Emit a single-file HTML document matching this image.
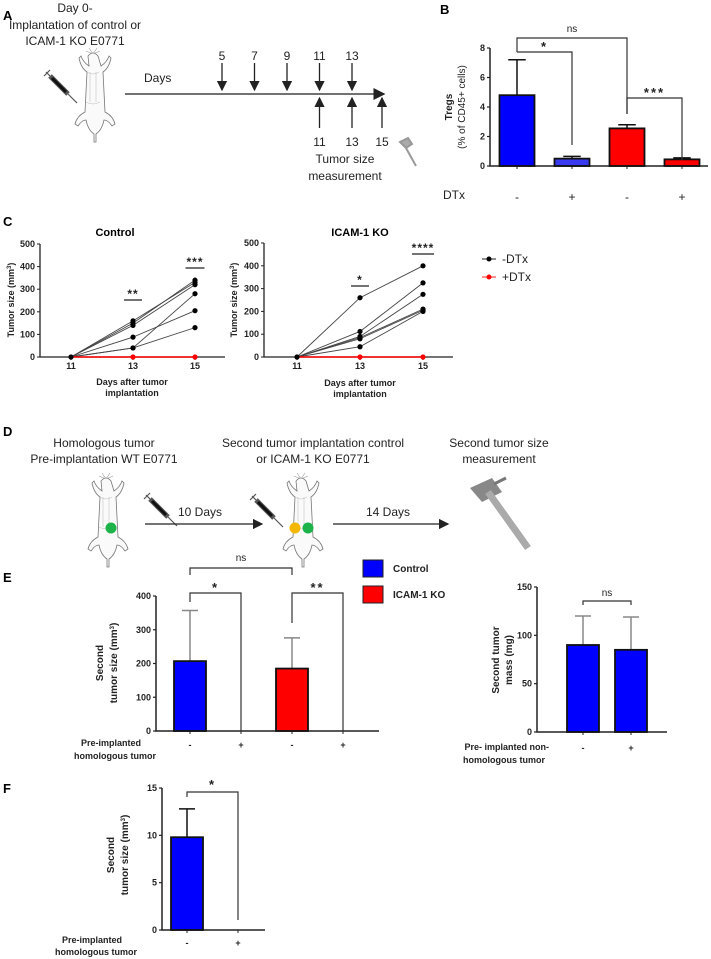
<!DOCTYPE html>
<html><head><meta charset="utf-8"><style>
html,body{margin:0;padding:0;background:#fff;}
svg{display:block;font-family:"Liberation Sans",sans-serif;}
.t{font-size:9px;font-weight:bold;fill:#222;}
.n{font-size:12px;fill:#222;}
.pl{font-size:13px;font-weight:bold;fill:#000;}
</style></head><body>
<svg id="fig" width="711" height="959" viewBox="0 0 711 959" xmlns="http://www.w3.org/2000/svg">
<defs>
<marker id="ah" markerWidth="8" markerHeight="8" refX="7" refY="4" orient="auto"><path d="M0,0 L8,4 L0,8 z" fill="#222"/></marker>
<g id="mouse">
<path d="M0,-38 l-4,-6 m4,6 l4,-6 m-4,6 l-7,-3 m7,3 l7,-3" stroke="#999" fill="none" stroke-width="0.6"/>
<path d="M-5,-36 q5,-6 10,0 l3,10 q6,-4 8,-10 l2,2 q-2,10 -8,14 l2,40 q8,4 10,12 l-3,2 q-4,-6 -8,-6 q-2,10 -8,14 l0,8 l-2,0 l0,-8 q-6,-4 -8,-14 q-4,0 -8,6 l-3,-2 q2,-8 10,-12 l2,-40 q-6,-4 -8,-14 l2,-2 q2,6 8,10 z" stroke="#777" fill="#fafafa" stroke-width="0.8"/>
<path d="M-6,-20 q6,4 12,0 M-7,10 q7,4 14,0 M-3,-20 l0,30 M3,-20 l0,30" stroke="#bbb" fill="none" stroke-width="0.5"/>
</g>
<g id="syr">
<path d="M0,0 l18,18" stroke="#555" stroke-width="5"/>
<path d="M2,2 l14,14" stroke="#111" stroke-width="3"/>
<path d="M18,18 l9,9 M-4,-4 l4,4 M-6,0 l6,-6" stroke="#555" stroke-width="1.2"/>
</g>
</defs>

<!-- Panel A -->
<g>
<text x="3" y="20" class="pl">A</text>
<text x="75" y="12" class="n" text-anchor="middle">Day 0-</text>
<text x="75" y="29" class="n" text-anchor="middle">Implantation of control or</text>
<text x="75" y="45" class="n" text-anchor="middle">ICAM-1 KO E0771</text>
<use href="#mouse" x="93" y="92"/>
<use href="#syr" x="50" y="76"/>
<text x="144" y="82" class="n">Days</text>
<line x1="125" y1="94" x2="384" y2="94" stroke="#444" stroke-width="1.5" marker-end="url(#ah)"/>
<g id="timeline"></g>
<text x="345" y="163" class="n" text-anchor="middle">Tumor size</text>
<text x="345" y="180" class="n" text-anchor="middle">measurement</text>
<path d="M400,142 l8,-4 l4,6 l-6,4 z M406,148 l10,18" stroke="#999" stroke-width="2" fill="#aaa"/>
</g>

<!-- Panel B -->
<g id="pb">
<text x="440" y="14" class="pl">B</text>
<text transform="translate(452,107) rotate(-90)" class="t" text-anchor="middle" style="font-size:10px">Tregs</text>
<text transform="translate(465,107) rotate(-90)" class="t" text-anchor="middle" style="font-size:10px;font-weight:normal">(% of CD45+ cells)</text>
<text x="443" y="199" class="n">DTx</text>
</g>

<!-- Panel C -->
<g id="pc">
<text x="3" y="226" class="pl">C</text>
<text x="115" y="236" class="pl" style="font-size:11px" text-anchor="middle">Control</text>
<text x="360" y="236" class="pl" style="font-size:11px" text-anchor="middle">ICAM-1 KO</text>
<text x="132" y="385" class="t" text-anchor="middle">Days after tumor</text>
<text x="132" y="396" class="t" text-anchor="middle">implantation</text>
<text x="360" y="386" class="t" text-anchor="middle">Days after tumor</text>
<text x="360" y="397" class="t" text-anchor="middle">implantation</text>
<text transform="translate(14,300) rotate(-90)" class="t" text-anchor="middle">Tumor size (mm<tspan dy="-3" font-size="6">3</tspan><tspan dy="3">)</tspan></text>
<text transform="translate(237,300) rotate(-90)" class="t" text-anchor="middle">Tumor size (mm<tspan dy="-3" font-size="6">3</tspan><tspan dy="3">)</tspan></text>
<g><line x1="482" y1="259" x2="496" y2="259" stroke="#222"/><circle cx="489" cy="259" r="2.5" fill="#000"/><text x="502" y="263" class="n">-DTx</text></g>
<g><line x1="482" y1="277" x2="496" y2="277" stroke="#f22"/><circle cx="489" cy="277" r="2.5" fill="#f00"/><text x="502" y="281" class="n">+DTx</text></g>
</g>

<!-- Panel D -->
<g>
<text x="3" y="436" class="pl">D</text>
<text x="104" y="447" class="n" text-anchor="middle">Homologous  tumor</text>
<text x="104" y="463" class="n" text-anchor="middle">Pre-implantation WT E0771</text>
<text x="313" y="447" class="n" text-anchor="middle">Second tumor implantation control</text>
<text x="313" y="463" class="n" text-anchor="middle">or ICAM-1 KO E0771</text>
<text x="499" y="447" class="n" text-anchor="middle">Second tumor size</text>
<text x="499" y="463" class="n" text-anchor="middle">measurement</text>
<use href="#mouse" x="106" y="517"/>
<circle cx="111" cy="528" r="5.5" fill="#1db34a"/>
<use href="#syr" x="150" y="499"/>
<line x1="145" y1="524" x2="262" y2="524" stroke="#222" stroke-width="1.3" marker-end="url(#ah)"/>
<text x="200" y="516" class="n" text-anchor="middle">10 Days</text>
<use href="#mouse" x="301" y="517"/>
<circle cx="295" cy="528" r="5.5" fill="#f5b800"/>
<circle cx="308" cy="528" r="5.5" fill="#1db34a"/>
<use href="#syr" x="256" y="500"/>
<line x1="333" y1="524" x2="448" y2="524" stroke="#222" stroke-width="1.3" marker-end="url(#ah)"/>
<text x="388" y="516" class="n" text-anchor="middle">14 Days</text>
<g>
<path d="M470,488 l22,-10 l10,14 l-20,10 z" fill="#888"/>
<path d="M488,492 l40,56" stroke="#aaa" stroke-width="7"/>
<path d="M494,484 l12,-6" stroke="#777" stroke-width="3"/>
</g>
</g>

<!-- Panel E -->
<g id="pe">
<text x="3" y="582" class="pl">E</text>
<rect x="363" y="560" width="20" height="17" fill="#0000ff" stroke="#222"/>
<text x="393" y="572" class="t" style="font-size:10px">Control</text>
<rect x="363" y="586" width="20" height="17" fill="#ff0000" stroke="#222"/>
<text x="393" y="598" class="t" style="font-size:10px">ICAM-1 KO</text>
<text transform="translate(103,663) rotate(-90)" class="t" style="font-size:10px" text-anchor="middle">Second</text>
<text transform="translate(117,663) rotate(-90)" class="t" style="font-size:10px" text-anchor="middle">tumor size (mm<tspan dy="-3" font-size="6">3</tspan><tspan dy="3">)</tspan></text>
<text x="141" y="746" class="t" text-anchor="end">Pre-implanted</text>
<text x="156" y="759" class="t" text-anchor="end">homologous tumor</text>
<text transform="translate(499,660) rotate(-90)" class="t" style="font-size:10px" text-anchor="middle">Second tumor</text>
<text transform="translate(512,660) rotate(-90)" class="t" style="font-size:10px" text-anchor="middle">mass (mg)</text>
<text x="549" y="750" class="t" text-anchor="end">Pre- implanted non-</text>
<text x="545" y="763" class="t" text-anchor="end">homologous tumor</text>
</g>

<!-- Panel F -->
<g id="pf">
<text x="3" y="793" class="pl">F</text>
<text transform="translate(114,855) rotate(-90)" class="t" style="font-size:10px" text-anchor="middle">Second</text>
<text transform="translate(128,855) rotate(-90)" class="t" style="font-size:10px" text-anchor="middle">tumor size (mm<tspan dy="-3" font-size="6">3</tspan><tspan dy="3">)</tspan></text>
<text x="122" y="943" class="t" text-anchor="end">Pre-implanted</text>
<text x="137" y="955" class="t" text-anchor="end">homologous tumor</text>
</g>
</svg>
<script>
// ---- data ----
const timelineDown = [5, 7, 9, 11, 13];
const timelineUp = [11, 13, 15];
const bCats = ['-', '+', '-', '+'];
const bVals = [4.8, 0.5, 2.55, 0.45];
const bErr = [7.2, 0.65, 2.8, 0.55];
const bTicks = [0, 2, 4, 6, 8];
const cDays = [11, 13, 15];
const cTicks = [0, 100, 200, 300, 400, 500];
const ctrl13 = [160, 150, 140, 88, 40, 40];
const ctrl15 = [330, 340, 320, 205, 130, 280];
const icam13 = [260, 112, 90, 85, 80, 45];
const icam15 = [400, 325, 275, 210, 205, 200];
const eCats = ['-', '+', '-', '+'];
const eVals = [207, 0, 185, 0];
const eErr = [357, 0, 276, 0];
const eTicks = [0, 100, 200, 300, 400];
const rCats = ['-', '+'];
const rVals = [90, 85];
const rErr = [120, 119];
const rTicks = [0, 50, 100, 150];
const fCats = ['-', '+'];
const fVals = [9.8, 0];
const fErr = [12.8, 0];
const fTicks = [0, 5, 10, 15];

const NS = 'http://www.w3.org/2000/svg';
function mk(tag, attrs, parent) {
  const e = document.createElementNS(NS, tag);
  for (const k in attrs) e.setAttribute(k, attrs[k]);
  parent.appendChild(e);
  return e;
}
function txt(parent, x, y, s, cls, anchor) {
  const t = mk('text', {x: x, y: y, 'class': cls, 'text-anchor': anchor || 'middle'}, parent);
  t.textContent = s;
  return t;
}

// ---- timeline ----
const tl = document.getElementById('timeline');
const xDay = d => 222 + (d - 5) * 16.25;
timelineDown.forEach(d => {
  const l = mk('line', {x1: xDay(d), y1: 63, x2: xDay(d), y2: 90, stroke: '#222', 'stroke-width': 1.3, 'marker-end': 'url(#ah)'}, tl);
  
  
  const t = txt(tl, xDay(d), 60, String(d), 'n');
  
  
});
timelineUp.forEach(d => {
  const x = d === 15 ? 382 : xDay(d);
  const l = mk('line', {x1: x, y1: 128, x2: x, y2: 98, stroke: '#222', 'stroke-width': 1.3, 'marker-end': 'url(#ah)'}, tl);
  
  
  const t = txt(tl, x, 146, String(d), 'n');
  
  
});

// ---- generic bar chart ----
function barChart(g, o) {
  const y = v => o.y0 - (v - 0) * (o.y0 - o.yTop) / o.vMax;
  const x = i => o.x0 + i * o.step;
  const ax = mk('path', {d: `M${o.ax},${o.yTop} L${o.ax},${o.y0} L${o.axEnd},${o.y0}`, stroke: '#222', 'stroke-width': 1.5, fill: 'none'}, g);
  
  
  o.ticks.forEach(v => {
    const tk = mk('line', {x1: o.ax - 3, y1: y(v), x2: o.ax, y2: y(v), stroke: '#222', 'stroke-width': 1.2}, g);
    
    
    const tl2 = txt(g, o.ax - 5, y(v) + 3, String(v), 't', 'end');
    
    
  });
  o.cats.forEach((c, i) => {
    const xt = mk('line', {x1: x(i), y1: o.y0, x2: x(i), y2: o.y0 + 3, stroke: '#222'}, g);
    
    
    const cl = txt(g, x(i), o.catY, c, o.catCls || 't');
    
    
    if (o.err[i] > 0) {
      const el = mk('path', {d: `M${x(i)},${y(o.vals[i])} L${x(i)},${y(o.err[i])} M${x(i) - o.bw / 4},${y(o.err[i])} L${x(i) + o.bw / 4},${y(o.err[i])}`, stroke: o.errColor, 'stroke-width': 1.5, fill: 'none'}, g);
      
      
    }
    if (o.vals[i] > 0) {
      const b = mk('rect', {x: x(i) - o.bw / 2, y: y(o.vals[i]), width: o.bw, height: o.y0 - y(o.vals[i]), fill: o.fills[i], stroke: '#111', 'stroke-width': 1.8}, g);
      
      
    }
  });
  return {x: x, y: y};
}
function bracket(g, x1, ya, x2, yb, yTop, label, ly) {
  const p = mk('path', {d: `M${x1},${ya} L${x1},${yTop} L${x2},${yTop} L${x2},${yb}`, stroke: '#333', 'stroke-width': 1.2, fill: 'none'}, g);
  
  
  const t = txt(g, (x1 + x2) / 2, ly, label, label === 'ns' ? 'n' : 't');
  if (label === 'ns') t.setAttribute('style', 'font-size:10px');
  else t.setAttribute('style', 'font-size:13px;letter-spacing:2px');
  
  
}

// Panel B
const gb = document.getElementById('pb');
const B = barChart(gb, {ax: 490, axEnd: 708, y0: 166, yTop: 48, vMax: 8, x0: 517, step: 55, bw: 35, cats: bCats, vals: bVals, err: bErr, ticks: bTicks, fills: ['#0000ff', '#3a3af0', '#ff0000', '#ff0000'], errColor: '#111', catY: 201, catCls: 'n'});
bracket(gb, B.x(0), 52, B.x(2), 114, 38, 'ns', 32);
bracket(gb, B.x(0), 52, B.x(1), 145, 52, '*', 51);
bracket(gb, B.x(2), 114, B.x(3), 160, 98, '***', 97);

// Panel C line charts
const gc = document.getElementById('pc');
function lineChart(o, v13, v15) {
  const x = d => o.x0 + (d - 11) * o.dx;
  const y = v => o.y0 - v * (o.y0 - o.yTop) / 500;
  const ax = mk('path', {d: `M${o.ax},${o.yTop} L${o.ax},${o.y0} L${o.axEnd},${o.y0}`, stroke: '#222', 'stroke-width': 1.3, fill: 'none'}, gc);
  
  
  cTicks.forEach(v => {
    const tk = mk('line', {x1: o.ax - 3, y1: y(v), x2: o.ax, y2: y(v), stroke: '#222'}, gc);
    
    
    const t = txt(gc, o.ax - 5, y(v) + 3, String(v), 't', 'end');
    
    
  });
  cDays.forEach(d => {
    const tk = mk('line', {x1: x(d), y1: o.y0, x2: x(d), y2: o.y0 + 3, stroke: '#222'}, gc);
    
    
    const t = txt(gc, x(d), o.y0 + 12, String(d), 't');
    
    
  });
  v13.forEach((a, i) => {
    const l = mk('polyline', {points: `${x(11)},${y(0)} ${x(13)},${y(a)} ${x(15)},${y(v15[i])}`, stroke: '#444', 'stroke-width': 0.9, fill: 'none'}, gc);
    
    
    [[13, a], [15, v15[i]]].forEach(p => {
      const c = mk('circle', {cx: x(p[0]), cy: y(p[1]), r: 2.6, fill: '#000'}, gc);
      
      
    });
  });
  const rl = mk('line', {x1: x(11), y1: y(0), x2: x(15), y2: y(0), stroke: '#f00', 'stroke-width': 1.5}, gc);
  
  
  [13, 15].forEach(d => {
    const c = mk('circle', {cx: x(d), cy: y(0), r: 2.6, fill: '#f00'}, gc);
    
    
  });
  const c0 = mk('circle', {cx: x(11), cy: y(0), r: 2.6, fill: '#000'}, gc);
  
  
  return {x: x, y: y};
}
const C1 = lineChart({ax: 40, axEnd: 225, y0: 357, yTop: 244, x0: 71, dx: 31}, ctrl13, ctrl15);
const C2 = lineChart({ax: 264, axEnd: 453, y0: 357, yTop: 243, x0: 297, dx: 31.5}, icam13, icam15);
function sigLine(x, y, w, label) {
  const l = mk('line', {x1: x - w / 2, y1: y, x2: x + w / 2, y2: y, stroke: '#222', 'stroke-width': 1.2}, gc);
  
  
  const t = txt(gc, x, y - 2, label, 't');
  t.setAttribute('style', 'font-size:12px;letter-spacing:1px');
  
  
}
sigLine(C1.x(13), 300, 18, '**');
sigLine(C1.x(15), 268, 19, '***');
sigLine(C2.x(13), 286, 18, '*');
sigLine(C2.x(15), 254, 22, '****');

// Panel E
const ge = document.getElementById('pe');
const E = barChart(ge, {ax: 156, axEnd: 379, y0: 731, yTop: 596, vMax: 400, x0: 190, step: 51, bw: 32, cats: eCats, vals: eVals, err: eErr, ticks: eTicks, fills: ['#0000ff', '#0000ff', '#ff0000', '#ff0000'], errColor: '#888', catY: 748});
bracket(ge, E.x(0), 575, E.x(2), 575, 568, 'ns', 561);
bracket(ge, E.x(0), 602, E.x(1), 731, 593, '*', 592);
bracket(ge, E.x(2), 623, E.x(3), 731, 593, '**', 592);
const R = barChart(ge, {ax: 537, axEnd: 667, y0: 732, yTop: 587, vMax: 150, x0: 583, step: 48, bw: 32, cats: rCats, vals: rVals, err: rErr, ticks: rTicks, fills: ['#0000ff', '#0000ff'], errColor: '#888', catY: 751});
bracket(ge, R.x(0), 605, R.x(1), 605, 601, 'ns', 596);

// Panel F
const gf = document.getElementById('pf');
const F = barChart(gf, {ax: 162, axEnd: 265, y0: 930, yTop: 788, vMax: 15, x0: 187, step: 51, bw: 32, cats: fCats, vals: fVals, err: fErr, ticks: fTicks, fills: ['#0000ff', '#0000ff'], errColor: '#111', catY: 946});
bracket(gf, F.x(0), 797, F.x(1), 920, 792, '*', 789);
</script>
</body></html>
